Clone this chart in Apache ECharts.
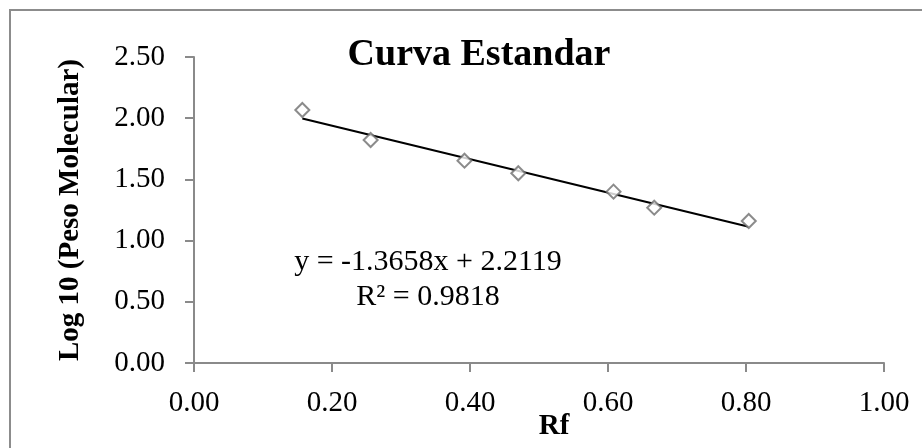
<!DOCTYPE html>
<html>
<head>
<meta charset="utf-8">
<script src="https://cdn.jsdelivr.net/npm/echarts@6/dist/echarts.min.js"></script>
<style>
  html, body { margin: 0; padding: 0; background: #fff; }
  #chart { width: 922px; height: 448px; }
</style>
</head>
<body>
<div id="chart"></div>
<script>
// Rf vs log10(molecular weight)
const rf = [0.157, 0.256, 0.392, 0.470, 0.608, 0.667, 0.804];
const logPM = [2.067, 1.822, 1.653, 1.550, 1.400, 1.269, 1.160];

// linear trendline as printed on the chart
const slope = -1.3658;
const intercept = 2.2119;
const r2 = 0.9818;

const font = 'Liberation Serif, Times New Roman, serif';

const trendX = [Math.min(...rf), Math.max(...rf)];
const trend = trendX.map(x => [x, slope * x + intercept]);

const chartDom = document.getElementById('chart');
const myChart = echarts.init(chartDom);
const option = {
  backgroundColor: '#fff',
  animation: false,
  grid: {
    left: 194,
    right: 38,
    top: 57,
    bottom: 85,
    containLabel: false,
    outerBoundsMode: 'none',
  },
  title: {
    text: 'Curva Estandar',
    left: 474,
    textAlign: 'center',
    top: 31,
    textStyle: {
      fontFamily: font,
      fontSize: 38,
      fontWeight: 'bold',
      color: '#000',
    },
  },
  xAxis: {
    type: 'value',
    min: 0,
    max: 1,
    interval: 0.2,
    name: 'Rf',
    nameLocation: 'middle',
    nameGap: 49,
    nameMoveOverlap: false,
    nameTextStyle: {
      fontFamily: font,
      fontSize: 29,
      fontWeight: 'bold',
      color: '#000',
      padding: [0, 0, 0, 30],
    },
    axisLine: { lineStyle: { color: '#8a8a8a', width: 2 } },
    axisTick: { length: 9, lineStyle: { color: '#8a8a8a', width: 2 } },
    axisLabel: {
      margin: 26,
      fontFamily: font,
      fontSize: 29,
      color: '#000',
      formatter: v => v.toFixed(2),
    },
    splitLine: { show: false },
  },
  yAxis: {
    type: 'value',
    min: 0,
    max: 2.5,
    interval: 0.5,
    name: 'Log 10 (Peso Molecular)',
    nameLocation: 'middle',
    nameGap: 109,
    nameMoveOverlap: false,
    nameTextStyle: {
      fontFamily: font,
      fontSize: 29,
      fontWeight: 'bold',
      color: '#000',
    },
    axisLine: { show: true, lineStyle: { color: '#8a8a8a', width: 2 } },
    axisTick: { show: true, length: 9, lineStyle: { color: '#8a8a8a', width: 2 } },
    axisLabel: {
      margin: 29,
      fontFamily: font,
      fontSize: 29,
      color: '#000',
      formatter: v => v.toFixed(2),
    },
    splitLine: { show: false },
  },
  graphic: [
    {
      type: 'rect',
      shape: { x: 10, y: 10, width: 960, height: 480 },
      style: { fill: 'none', stroke: '#8c8c8c', lineWidth: 2 },
      silent: true,
    },
    {
      type: 'text',
      x: 428,
      y: 280,
      style: {
        text: 'y = ' + slope + 'x + ' + intercept + '\nR² = ' + r2,
        fontFamily: font,
        fontSize: 30,
        lineHeight: 35,
        align: 'center',
        verticalAlign: 'middle',
        fill: '#000',
      },
    },
  ],
  series: [
    {
      type: 'line',
      data: trend,
      symbol: 'none',
      lineStyle: { color: '#000', width: 2 },
      z: 2,
    },
    {
      type: 'scatter',
      data: rf.map((x, i) => [x, logPM[i]]),
      symbol: 'diamond',
      symbolSize: [14, 14],
      itemStyle: { color: '#fff', borderColor: '#6e6e6e', borderWidth: 2 },
      z: 3,
    },
  ],
};

option && myChart.setOption(option);
</script>
</body>
</html>
